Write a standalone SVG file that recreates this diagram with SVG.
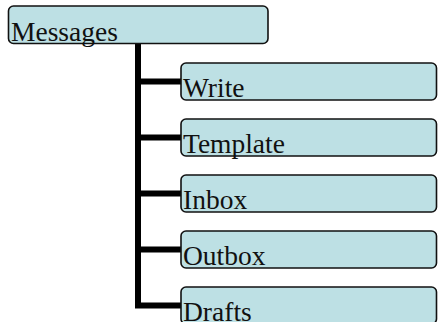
<svg xmlns="http://www.w3.org/2000/svg" width="438" height="322" viewBox="0 0 438 322">
<style>
.box{fill:#bde0e4;stroke:#111;stroke-width:1.6}
.lbl{font-family:"Liberation Serif","Times New Roman",serif;font-size:27.5px;fill:#111}
.con{stroke:#000;stroke-width:6;fill:none}
</style>
<rect width="438" height="322" fill="#fff"/>
<g id="connectors">
<path class="con" d="M138 44 V305"/>
<path class="con" d="M135 81.5 H181"/>
<path class="con" d="M135 137.5 H181"/>
<path class="con" d="M135 193.5 H181"/>
<path class="con" d="M135 249.5 H181"/>
<path class="con" d="M135 305.5 H181"/>
</g>
<g id="messages"><rect class="box" x="8.5" y="6" width="259.5" height="37.5" rx="5"/><text class="lbl" x="11" y="41">Messages</text></g>
<g id="write"><rect class="box" x="181" y="63" width="255.5" height="37" rx="5"/><text class="lbl" x="183" y="97">Write</text></g>
<g id="template"><rect class="box" x="181" y="119" width="255.5" height="37" rx="5"/><text class="lbl" x="183" y="153">Template</text></g>
<g id="inbox"><rect class="box" x="181" y="175" width="255.5" height="37" rx="5"/><text class="lbl" x="183" y="209">Inbox</text></g>
<g id="outbox"><rect class="box" x="181" y="231" width="255.5" height="37" rx="5"/><text class="lbl" x="183" y="265">Outbox</text></g>
<g id="drafts"><rect class="box" x="181" y="287" width="255.5" height="37" rx="5"/><text class="lbl" x="183" y="321">Drafts</text></g>
</svg>
